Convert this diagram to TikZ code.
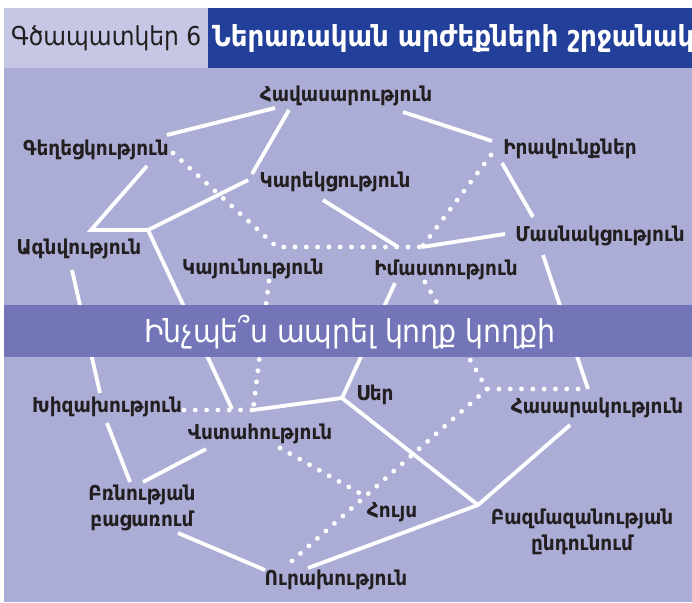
\documentclass[tikz,border=0pt]{standalone}
\usepackage{fontspec}
\setmainfont{DejaVu Sans}
\newfontfamily\lblfont{DejaVu Sans}[FakeStretch=0.9]

\definecolor{bgpurple}{HTML}{ACADD6}
\definecolor{bandpurple}{HTML}{7375B8}
\definecolor{headlight}{HTML}{C6C7E4}
\definecolor{headblue}{HTML}{22409A}
\definecolor{inkgray}{HTML}{231F20}

\tikzset{
  value/.style={font=\lblfont\bfseries\fontsize{20.5}{26}\selectfont, text=inkgray, inner sep=0pt, align=center},
  link/.style={white, line width=3.8pt},
  dotlink/.style={white, line width=4.8pt, line cap=round, dash pattern=on 0pt off 11.3pt},
}

\begin{document}
\begin{tikzpicture}[x=1pt, y=-1pt]
    \useasboundingbox (0,0) rectangle (692,602);
    \fill[white] (0,0) rectangle (692,602);
    \fill[bgpurple] (4,68) rectangle (692,602);
    \fill[headlight] (4,8) rectangle (208,68);
    \fill[headblue] (208,8) rectangle (692,68);

    % values
    \node[value] (hav) at (346,96) {Հավասարություն};
    \node[value] (gegh) at (96,150) {Գեղեցկություն};
    \node[value] (irav) at (570,149) {Իրավունքներ};
    \node[value] (kar) at (335,182) {Կարեկցություն};
    \node[value] (agn) at (79,249) {Ագնվություն};
    \node[value] (masn) at (600,236) {Մասնակցություն};
    \node[value] (kayun) at (253,269) {Կայունություն};
    \node[value] (imast) at (446,270) {Իմաստություն};
    \node[value] (ser) at (375,395) {Սեր};
    \node[value] (khiz) at (107,407) {Խիզախություն};
    \node[value] (vst) at (260,434) {Վստահություն};
    \node[value] (hasar) at (597,408) {Հասարակություն};
    \node[value] (brn) at (142,508) {Բռնության\\բացառում};
    \node[value] (huys) at (392,512) {Հույս};
    \node[value] (bazm) at (582,532) {Բազմազանության\\ընդունում};
    \node[value] (urakh) at (336,580) {Ուրախություն};

    % junctions
    \coordinate (jA) at (91,230);
    \coordinate (jB) at (148,230);
    \coordinate (jC) at (277,247);
    \coordinate (jD) at (422,247);
    \coordinate (jK) at (398,247);
    \coordinate (jE) at (232,409);
    \coordinate (jF) at (253,410);
    \coordinate (jG) at (342,398);
    \coordinate (jH) at (487,389);
    \coordinate (jI) at (588,389);
    \coordinate (jJ) at (478,505);
    \coordinate (jL) at (363,495);

    % solid links
    \draw[link] ([shift={(-71,12)}]hav.center) -- ([shift={(71,-15)}]gegh.center);
    \draw[link] ([shift={(-57,14)}]hav.center) -- ([shift={(-83,-8)}]kar.center);
    \draw[link] ([shift={(57,16)}]hav.center) -- ([shift={(-78,-8)}]irav.center);
    \draw[link] ([shift={(-68,14)}]irav.center) -- ([shift={(-67,-19)}]masn.center);
    \draw[link] ([shift={(51,16)}]gegh.center) -- (jA) -- (jB) -- ([shift={(-87,-2)}]kar.center);
    \draw[link] (jB) -- (jE);
    \draw[link] ([shift={(-12,18)}]kar.center) -- (jK);
    \draw[link] ([shift={(-95,-2)}]masn.center) -- (jD);
    \draw[link] ([shift={(-7,21)}]agn.center) -- ([shift={(-7,-14)}]khiz.center);
    \draw[link] ([shift={(-51,13)}]imast.center) -- (jG);
    \draw[link] ([shift={(-57,19)}]masn.center) -- (jI);
    \draw[link] (jF) -- (jG) -- (jJ);
    \draw[link] ([shift={(-27,17)}]hasar.center) -- (jJ) -- ([shift={(-28,-12)}]urakh.center);
    \draw[link] ([shift={(0,16)}]khiz.center) -- ([shift={(-12,-26)}]brn.center);
    \draw[link] ([shift={(1,-26)}]brn.center) -- ([shift={(-54,15)}]vst.center);
    \draw[link] ([shift={(36,25)}]brn.center) -- ([shift={(-71,-10)}]urakh.center);

    % dotted links
    \draw[dotlink] ([shift={(77,3)}]gegh.center) -- (jC) -- (jD);
    \draw[dotlink] ([shift={(-79,6)}]irav.center) -- (jD);
    \draw[dotlink] ([shift={(16,12)}]kayun.center) -- (jF);
    \draw[dotlink] ([shift={(77,3)}]khiz.center) -- (jF);
    \draw[dotlink] ([shift={(-21,12)}]imast.center) -- (jH) -- (jI);
    \draw[dotlink] (jH) -- ([shift={(-51,-13)}]urakh.center);
    \draw[dotlink] ([shift={(20,14)}]vst.center) -- (jL);

    % band
    \fill[bandpurple] (4,305) rectangle (692,357);
    \node[font=\lblfont\fontsize{31.5}{34}\selectfont, text=white, inner sep=0pt] (motto) at (350,332) {Ինչպե՞ս ապրել կողք կողքի};

    % header
    \begin{scope}
        \clip (0,0) rectangle (692,602);
        \node[font=\lblfont\fontsize{26}{30}\selectfont, text=inkgray, anchor=west, inner sep=0pt] (fignum) at (11,38) {Գծապատկեր 6};
        \node[font=\lblfont\bfseries\fontsize{29}{30}\selectfont, text=white, anchor=west, inner sep=0pt] (figtitle) at (212,38) {Ներառական արժեքների շրջանակ};
    \end{scope}
\end{tikzpicture}
\end{document}
